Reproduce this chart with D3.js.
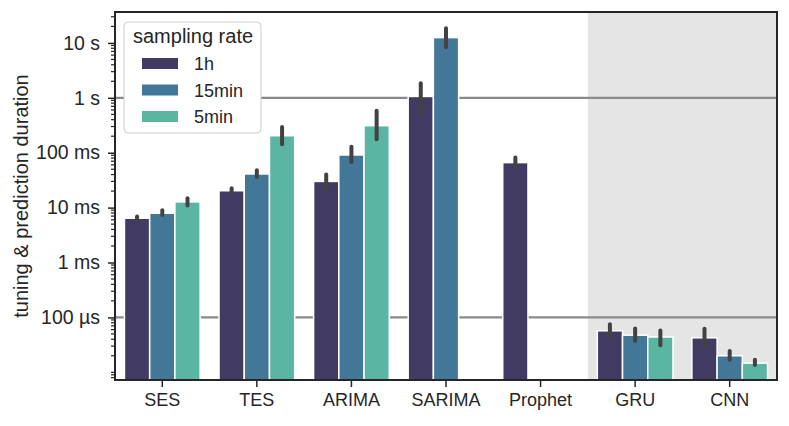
<!DOCTYPE html>
<html lang="en">
<head>
<meta charset="UTF-8">
<title>Tuning and prediction duration</title>
<script src="https://d3js.org/d3.v7.min.js"></script>
<style>
  body { margin: 0; background: #fff; }
  svg { display: block; font-family: "Liberation Sans", Arial, sans-serif; }
</style>
</head>
<body>
<svg id="chart" width="789" height="426"></svg>
<script>
// models on the x axis, sampling rates as hue
const models = ["SES", "TES", "ARIMA", "SARIMA", "Prophet", "GRU", "CNN"];
const rates = ["1h", "15min", "5min"];

// mean duration in seconds (null = no bar)
const dur1h    = [6.4e-3, 20.3e-3, 30e-3, 1.06, 66e-3, 57e-6, 42.5e-6];
const dur15min = [7.9e-3, 41e-3, 91e-3, 12.5, null, 47.5e-6, 20e-6];
const dur5min  = [12.7e-3, 204e-3, 311e-3, null, null, 44e-6, 14.7e-6];

// error bar ends
const lo1h    = [6.0e-3, 19.4e-3, 21.5e-3, 0.52, 56e-3, 45e-6, 31e-6];
const hi1h    = [6.9e-3, 22.5e-3, 40e-3, 1.85, 82e-3, 75e-6, 62e-6];
const lo15min = [7.3e-3, 36e-3, 68e-3, 8.3, null, 37e-6, 17e-6];
const hi15min = [9.0e-3, 48e-3, 128e-3, 18.5, null, 63e-6, 24.5e-6];
const lo5min  = [10.9e-3, 142e-3, 176e-3, null, null, 31e-6, 13.6e-6];
const hi5min  = [14.8e-3, 295e-3, 580e-3, null, null, 58e-6, 17e-6];

const tickValues = [1e-4, 1e-3, 1e-2, 1e-1, 1, 10];
const tickLabels = ["100 µs", "1 ms", "10 ms", "100 ms", "1 s", "10 s"];
const gridValues = [1e-4, 1];
const nnModels = ["GRU", "CNN"];

const colors = ["#413a62", "#427797", "#5ab5a3"];

const means = [dur1h, dur15min, dur5min];
const lows = [lo1h, lo15min, lo5min];
const highs = [hi1h, hi15min, hi5min];

const rows = [];
rates.forEach((r, ri) => {
  models.forEach((m, mi) => {
    if (means[ri][mi] == null) return;
    rows.push({model: m, rate: r, value: means[ri][mi], lo: lows[ri][mi], hi: highs[ri][mi]});
  });
});

const margin = {left: 115, right: 12, top: 12, bottom: 46};
const W = 789, H = 426;
const svg = d3.select("#chart");

const x = d3.scaleBand().domain(models).range([margin.left, W - margin.right]);
const xSub = d3.scaleBand().domain(rates).range([0.1 * x.bandwidth(), 0.9 * x.bandwidth()]);
const y = d3.scaleLog().domain([7.24e-6, 36.6]).range([H - margin.bottom, margin.top]);
const color = d3.scaleOrdinal().domain(rates).range(colors);

const plotLeft = margin.left, plotRight = W - margin.right;
const plotTop = margin.top, plotBottom = H - margin.bottom;

// shaded region for the neural nets
svg.append("rect")
  .attr("x", x(nnModels[0]))
  .attr("y", plotTop)
  .attr("width", plotRight - x(nnModels[0]))
  .attr("height", plotBottom - plotTop)
  .attr("fill", "#e5e5e5");

// reference lines
svg.append("g").selectAll("line")
  .data(gridValues)
  .join("line")
  .attr("x1", plotLeft).attr("x2", plotRight)
  .attr("y1", d => y(d)).attr("y2", d => y(d))
  .attr("stroke", "#8a8a8a")
  .attr("stroke-width", 2.2);

// bars
svg.append("g").selectAll("rect")
  .data(rows)
  .join("rect")
  .attr("x", d => x(d.model) + xSub(d.rate))
  .attr("width", xSub.bandwidth())
  .attr("y", d => y(d.value))
  .attr("height", d => plotBottom - y(d.value))
  .attr("fill", d => color(d.rate))
  .attr("stroke", "#fff")
  .attr("stroke-width", 1.5);

// error bars
svg.append("g").selectAll("line")
  .data(rows)
  .join("line")
  .attr("x1", d => x(d.model) + xSub(d.rate) + xSub.bandwidth() / 2)
  .attr("x2", d => x(d.model) + xSub(d.rate) + xSub.bandwidth() / 2)
  .attr("y1", d => y(d.lo))
  .attr("y2", d => y(d.hi))
  .attr("stroke", "#424242")
  .attr("stroke-width", 4)
  .attr("stroke-linecap", "round");

// y axis: major + minor ticks
const [d0, d1] = y.domain();
const minor = [];
for (let e = -6; e <= 1; e++) {
  for (let k = 1; k <= 9; k++) {
    const v = k * Math.pow(10, e);
    if (v >= d0 && v <= d1 && !tickValues.some(t => Math.abs(t - v) / t < 1e-9)) minor.push(v);
  }
}
const yAxis = svg.append("g")
  .attr("transform", `translate(${plotLeft},0)`)
  .call(d3.axisLeft(y).tickValues(tickValues)
    .tickFormat((d, i) => tickLabels[i]).tickSizeOuter(0).tickSize(7).tickPadding(8));
yAxis.select(".domain").remove();
yAxis.selectAll("line").attr("stroke", "#262626").attr("stroke-width", 1.5);
yAxis.selectAll("text").attr("fill", "#262626").style("font-size", "19.5px");

svg.append("g").selectAll("line")
  .data(minor)
  .join("line")
  .attr("x1", plotLeft - 4).attr("x2", plotLeft)
  .attr("y1", d => y(d)).attr("y2", d => y(d))
  .attr("stroke", "#262626")
  .attr("stroke-width", 1.2);

// x axis
const xAxis = svg.append("g")
  .attr("transform", `translate(0,${plotBottom})`)
  .call(d3.axisBottom(x).tickSize(7).tickSizeOuter(0).tickPadding(6));
xAxis.select(".domain").remove();
xAxis.selectAll("line").attr("stroke", "#262626").attr("stroke-width", 1.5);
xAxis.selectAll("text").attr("fill", "#262626").style("font-size", "18px");

// frame
svg.append("rect")
  .attr("x", plotLeft).attr("y", plotTop)
  .attr("width", plotRight - plotLeft).attr("height", plotBottom - plotTop)
  .attr("fill", "none")
  .attr("stroke", "#262626")
  .attr("stroke-width", 2);

// y label
svg.append("text")
  .attr("transform", `translate(28,${(plotTop + plotBottom) / 2}) rotate(-90)`)
  .attr("text-anchor", "middle")
  .attr("fill", "#262626")
  .style("font-size", "20px")
  .text("tuning & prediction duration");

// legend
const lg = svg.append("g").attr("transform", "translate(124,22)");
lg.append("rect")
  .attr("width", 137).attr("height", 111)
  .attr("rx", 4)
  .attr("fill", "#fff")
  .attr("stroke", "#cccccc")
  .attr("stroke-width", 1);
lg.append("text")
  .attr("x", 9).attr("y", 21)
  .attr("fill", "#262626")
  .style("font-size", "20px")
  .text("sampling rate");
const items = lg.selectAll("g.item")
  .data(rates)
  .join("g")
  .attr("class", "item")
  .attr("transform", (d, i) => `translate(18,${36 + i * 26.5})`);
items.append("rect")
  .attr("width", 36).attr("height", 11)
  .attr("fill", d => color(d));
items.append("text")
  .attr("x", 52).attr("y", 12)
  .attr("fill", "#262626")
  .style("font-size", "18px")
  .text(d => d);
</script>
</body>
</html>
